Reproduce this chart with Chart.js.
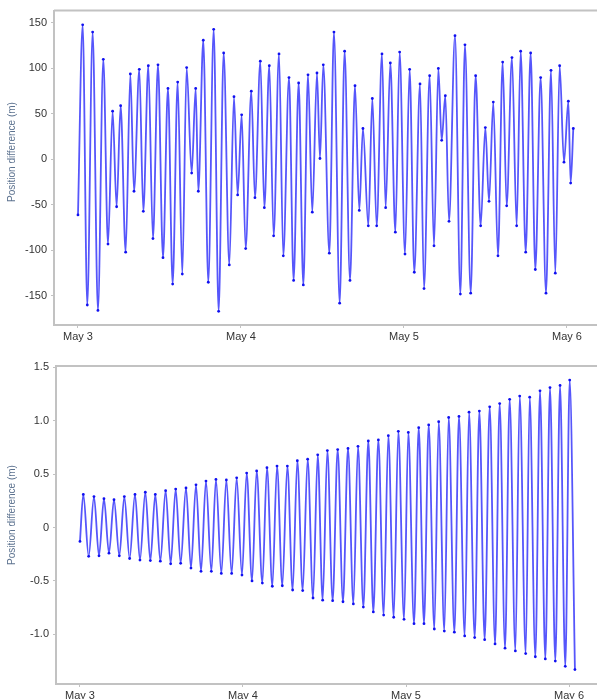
<!DOCTYPE html>
<html lang="en">
<head>
    <meta charset="UTF-8">
    <title>Position difference</title>
    <script src="https://cdn.jsdelivr.net/npm/chart.js"></script>
    <style>
        * {
            margin: 0;
            padding: 0;
            box-sizing: border-box;
        }

        body {
            background: #fff;
            width: 597px;
            height: 699px;
            overflow: hidden;
            font-family: "Liberation Sans", Arial, sans-serif;
        }

        .panel {
            position: absolute;
            left: 0;
            width: 597px;
        }

        #topPanel {
            top: 0;
            height: 345px;
        }

        #bottomPanel {
            top: 345px;
            height: 354px;
        }
    </style>
</head>
<body>

    <div class="panel" id="topPanel"><canvas id="topChart"></canvas></div>
    <div class="panel" id="bottomPanel"><canvas id="bottomChart"></canvas></div>

    <script>
        // x axis: hours since May 3 00:00
        const dayHours = [0, 24, 48, 72];
        const dayLabels = ['May 3', 'May 4', 'May 5', 'May 6'];

        // top panel: turning points of the curve (hours, metres)
        const topHours = [0.0, 0.69, 1.37, 2.16, 2.94, 3.73, 4.42, 5.10, 5.69, 6.28,
            7.02, 7.71, 8.25, 9.03, 9.62, 10.36, 11.04, 11.78, 12.52, 13.25,
            13.94, 14.68, 15.36, 16.00, 16.74, 17.33, 17.72, 18.45, 19.19, 19.98,
            20.71, 21.45, 22.28, 22.97, 23.51, 24.10, 24.69, 25.52, 26.06, 26.85,
            27.44, 28.17, 28.81, 29.60, 30.23, 31.07, 31.75, 32.49, 33.18, 33.87,
            34.50, 35.19, 35.63, 36.12, 37.01, 37.69, 38.53, 39.26, 40.05, 40.79,
            41.42, 41.96, 42.75, 43.34, 43.98, 44.76, 45.30, 45.99, 46.73, 47.36,
            48.15, 48.83, 49.52, 50.36, 50.95, 51.78, 52.42, 53.06, 53.55, 54.09,
            54.63, 55.51, 56.30, 56.98, 57.82, 58.55, 59.29, 59.98, 60.52, 61.15,
            61.84, 62.53, 63.12, 63.90, 64.59, 65.18, 65.92, 66.65, 67.34, 68.12,
            68.91, 69.65, 70.28, 70.92, 71.56, 72.20, 72.54, 72.93];
        const topValues = [-61, 148, -160, 140, -166, 110, -93, 53, -52, 59,
            -102, 94, -35, 99, -57, 103, -87, 104, -108, 78,
            -137, 85, -126, 101, -15, 78, -35, 131, -135, 143,
            -167, 117, -116, 69, -39, 49, -98, 75, -42, 108,
            -53, 103, -84, 116, -106, 90, -133, 84, -138, 93,
            -58, 95, 1, 104, -103, 140, -158, 119, -133, 81,
            -56, 34, -73, 67, -73, 116, -53, 106, -80, 118,
            -104, 99, -124, 83, -142, 92, -95, 100, 21, 70,
            -68, 136, -148, 126, -147, 92, -73, 35, -46, 63,
            -106, 107, -51, 112, -73, 119, -102, 117, -121, 90,
            -147, 98, -125, 103, -3, 64, -26, 34];
        const topYTicks = [-150, -100, -50, 0, 50, 100, 150];

        // bottom panel: turning points of the curve (hours, metres)
        const bottomHours = [0.0, 0.49, 1.28, 2.06, 2.80, 3.53, 4.27, 5.01, 5.79, 6.53,
            7.31, 8.10, 8.83, 9.62, 10.36, 11.09, 11.83, 12.61, 13.35, 14.09,
            14.82, 15.61, 16.34, 17.08, 17.82, 18.55, 19.34, 20.02, 20.81, 21.55,
            22.33, 23.07, 23.85, 24.54, 25.33, 26.01, 26.85, 27.53, 28.32, 29.01,
            29.79, 30.53, 31.31, 32.00, 32.79, 33.52, 34.31, 35.00, 35.73, 36.42,
            37.20, 37.94, 38.72, 39.46, 40.25, 40.93, 41.72, 42.45, 43.19, 43.93,
            44.71, 45.40, 46.19, 46.87, 47.71, 48.34, 49.18, 49.87, 50.65, 51.34,
            52.17, 52.81, 53.64, 54.28, 55.12, 55.80, 56.64, 57.28, 58.11, 58.80,
            59.58, 60.32, 61.11, 61.79, 62.58, 63.26, 64.10, 64.74, 65.62, 66.21,
            67.04, 67.73, 68.51, 69.20, 69.98, 70.68, 71.45, 72.10, 72.87];
        const bottomValues = [-0.13, 0.31, -0.27, 0.29, -0.265, 0.27, -0.24, 0.26, -0.265, 0.29,
            -0.29, 0.31, -0.305, 0.33, -0.31, 0.31, -0.315, 0.345, -0.34, 0.36,
            -0.335, 0.37, -0.38, 0.40, -0.41, 0.435, -0.41, 0.45, -0.43, 0.445,
            -0.43, 0.465, -0.445, 0.51, -0.50, 0.53, -0.52, 0.56, -0.55, 0.575,
            -0.545, 0.575, -0.585, 0.625, -0.59, 0.64, -0.66, 0.68, -0.68, 0.72,
            -0.685, 0.73, -0.695, 0.74, -0.715, 0.76, -0.745, 0.81, -0.79, 0.82,
            -0.82, 0.86, -0.84, 0.90, -0.86, 0.89, -0.90, 0.935, -0.90, 0.96,
            -0.95, 0.99, -0.97, 1.03, -0.98, 1.04, -1.015, 1.08, -1.03, 1.09,
            -1.05, 1.13, -1.09, 1.16, -1.13, 1.20, -1.155, 1.23, -1.18, 1.22,
            -1.21, 1.28, -1.23, 1.31, -1.25, 1.33, -1.30, 1.38, -1.33];
        const bottomYTicks = [-1.0, -0.5, 0, 0.5, 1.0, 1.5];

        const axisGray = '#c2c2c2';
        const tickText = '#333';

        // top frame line + rotated axis title
        const frameAndTitle = {
            id: 'frameAndTitle',
            afterDraw(chart, args, opts) {
                const { ctx, chartArea } = chart;
                ctx.save();
                ctx.strokeStyle = axisGray;
                ctx.lineWidth = 2;
                ctx.beginPath();
                ctx.moveTo(chartArea.left, chartArea.top);
                ctx.lineTo(chart.width, chartArea.top);
                ctx.stroke();
                ctx.translate(opts.x, opts.y);
                ctx.rotate(-Math.PI / 2);
                ctx.fillStyle = '#5d7390';
                ctx.font = '10px "Liberation Sans", Arial, sans-serif';
                ctx.textAlign = 'center';
                ctx.textBaseline = 'middle';
                ctx.fillText('Position difference (m)', 0, 0);
                ctx.restore();
            }
        };

        function makeChart(id, hours, values, yTicks, yMin, yMax, xMin, xMax, yWidth, xHeight, padTop, titleY, fmt) {
            const points = hours.map((h, i) => ({ x: h, y: values[i] }));
            return new Chart(document.getElementById(id), {
                type: 'line',
                data: {
                    datasets: [{
                        data: points,
                        borderColor: 'rgba(30, 30, 250, 0.75)',
                        borderWidth: 1.8,
                        pointRadius: 1.4,
                        pointBackgroundColor: '#1010f0',
                        pointBorderWidth: 0,
                        cubicInterpolationMode: 'monotone',
                        clip: false
                    }]
                },
                options: {
                    responsive: true,
                    maintainAspectRatio: false,
                    animation: false,
                    layout: { autoPadding: false, padding: { top: padTop, left: 0, right: 0, bottom: 0 } },
                    plugins: {
                        legend: { display: false },
                        tooltip: { enabled: false },
                        frameAndTitle: { x: 12, y: titleY }
                    },
                    scales: {
                        x: {
                            type: 'linear',
                            min: xMin,
                            max: xMax,
                            afterBuildTicks: s => { s.ticks = dayHours.map(v => ({ value: v })); },
                            afterFit: s => { s.height = xHeight; },
                            grid: { display: true, drawOnChartArea: false, tickLength: 3, color: axisGray },
                            border: { color: axisGray, width: 2 },
                            ticks: {
                                maxRotation: 0,
                                padding: 2,
                                color: tickText,
                                font: { size: 11, family: '"Liberation Sans", Arial, sans-serif' },
                                callback: v => dayLabels[dayHours.indexOf(v)]
                            }
                        },
                        y: {
                            min: yMin,
                            max: yMax,
                            afterBuildTicks: s => { s.ticks = yTicks.map(v => ({ value: v })); },
                            afterFit: s => { s.width = yWidth; },
                            grid: { display: true, drawOnChartArea: false, tickLength: 3, color: axisGray },
                            border: { color: axisGray, width: 2 },
                            ticks: {
                                padding: 4,
                                color: tickText,
                                font: { size: 11, family: '"Liberation Sans", Arial, sans-serif' },
                                callback: fmt
                            }
                        }
                    }
                },
                plugins: [frameAndTitle]
            });
        }

        makeChart('topChart', topHours, topValues, topYTicks, -182, 163.6, -3.53, 76.42,
            54, 20, 7, 152, v => String(v));
        makeChart('bottomChart', bottomHours, bottomValues, bottomYTicks, -1.465, 1.512, -3.53, 76.12,
            56, 15, 21, 170, v => (v === 0 ? '0' : v.toFixed(1)));
    </script>

</body>
</html>
